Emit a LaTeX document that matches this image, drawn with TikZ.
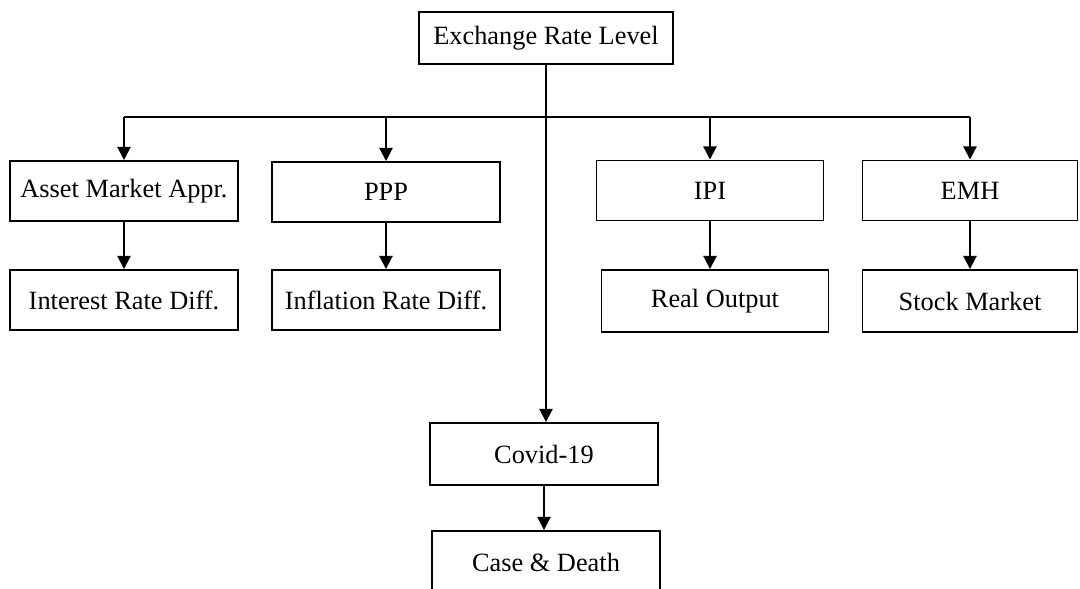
\documentclass[tikz,border=0pt]{standalone}
\usepackage{fontspec}
\setmainfont{Liberation Serif}
\usetikzlibrary{arrows.meta, positioning}

\tikzset{
  box/.style={draw, line width=1.1pt, minimum width=4.56cm, minimum height=1.2cm,
    inner sep=0pt, font=\fontsize{15}{17}\selectfont},
  link/.style={line width=1.1pt, -{Triangle[width=7.5pt,length=7.5pt]}},
  wire/.style={line width=1.1pt}
}

\begin{document}
\begin{tikzpicture}[x=0.02cm, y=-0.02cm]
  \useasboundingbox (0,0) rectangle (1080,589);
  \clip (0,0) rectangle (1080,589);

  % Top
  \node[box, minimum width=5.08cm, minimum height=1.04cm] (erl) at (546,38) {Exchange Rate Level};

  % First row
  \node[box] (asset) at (124,191) {Asset Market Appr.};
  \node[box] (ppp) at (386,192) {PPP};
  \node[box, minimum width=4.54cm] (ipi) at (710,190.5) {IPI};
  \node[box, minimum width=4.3cm] (emh) at (970,190.5) {EMH};

  % Second row
  \node[box] (intr) at (124,300) {Interest Rate Diff.};
  \node[box] (infl) at (386,300) {Inflation Rate Diff.};
  \node[box, minimum width=4.54cm, minimum height=1.24cm] (real) at (715,301) {Real Output};
  \node[box, minimum width=4.3cm, minimum height=1.24cm] (stock) at (970,301) {Stock Market};

  % Covid branch
  \node[box, minimum height=1.24cm] (covid) at (544,454) {Covid-19};
  \node[box, minimum height=1.24cm] (case) at (546,562) {Case \& Death};

  % Bus line
  \coordinate (bus) at (546,117);
  \draw[wire] (asset.north |- bus) -- (emh.north |- bus);
  \draw[link] (erl.south) -- (erl.south |- covid.north);
  \foreach \n in {asset, ppp, ipi, emh}
    \draw[link] (\n.north |- bus) -- (\n.north);

  % Lower arrows
  \foreach \a/\b in {asset/intr, ppp/infl, ipi/real, emh/stock, covid/case}
    \draw[link] (\a.south) -- (\a.south |- \b.north);
\end{tikzpicture}
\end{document}
